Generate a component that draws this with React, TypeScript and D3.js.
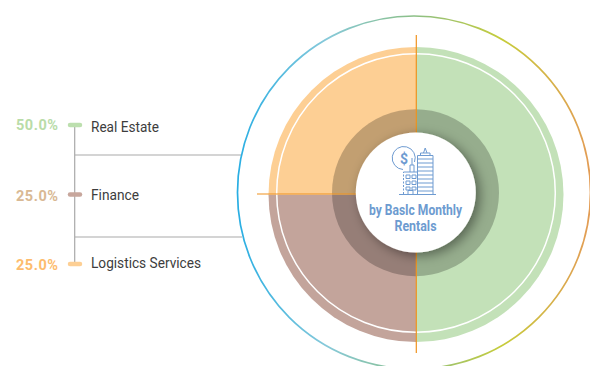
import { useMemo } from 'react'
import * as d3 from 'd3'

const categories = ['Real Estate', 'Finance', 'Logistics Services']
const shares = [50, 25, 25]
const shareLabels = ['50.0%', '25.0%', '25.0%']
const sliceColors = ['#c3e1b8', '#c3a49b', '#fdcf94']
const capColors = ['#bcdfae', '#c7a69c', '#fdcf94']
const labelColors = ['#b9dca8', '#d9b994', '#fdbc6e']
const centerLines = ['by BasIc Monthly', 'Rentals']

const W = 590
const H = 366

// fitted widths, the original font is narrower than anything installed
const nameWidths = [68, 48, 110]
const centerWidths = [93, 42]
const nameDy = [7, 5.5, 4]
const pctDy = [5, 6.5, 6]

export default function App() {
  const cx = 416
  const cy = 193.5

  const slices = useMemo(() => d3.pie<number>().sort(null)(shares), [])
  const arc = d3.arc<d3.PieArcDatum<number>>().innerRadius(0).outerRadius(147.5)

  const rowY = d3.scalePoint<string>().domain(categories).range([125, 264])
  const ringStops = ['#29aee3', '#86c9da', '#8bbf86', '#c6cc3a', '#e39c55']
  const ringOffset = d3.scaleLinear().domain([0, ringStops.length - 1]).range([0, 100])

  const iconColor = '#6e9bd1'

  return (
    <svg
      width={W}
      height={H}
      style={{ position: 'absolute', left: 0, top: 0, background: '#fff' }}
      fontFamily="Roboto, sans-serif"
    >
      <defs>
        <linearGradient id="ring" x1="0" y1="0" x2="1" y2="0">
          {ringStops.map((c, i) => (
            <stop key={c} offset={`${ringOffset(i)}%`} stopColor={c} />
          ))}
        </linearGradient>
        <filter id="hubShadow" x="-30%" y="-30%" width="170%" height="170%">
          <feDropShadow dx="4" dy="3" stdDeviation="6" floodColor="#000" floodOpacity="0.42" />
        </filter>
      </defs>

      {/* Connector lines behind the outer ring */}
      <g stroke="#a9a9a9" strokeWidth={1.2} fill="none">
        <line x1={74.7} x2={74.7} y1={rowY(categories[0])} y2={rowY(categories[2])} />
        <line x1={75} x2={241} y1={155} y2={155} />
        <line x1={75} x2={242} y1={237} y2={237} />
      </g>

      <circle cx={414} cy={192.5} r={176.5} fill="none" stroke="url(#ring)" strokeWidth={1.7} />

      <g transform={`translate(${cx},${cy + 1})`}>
        {slices.map((s, i) => (
          <path key={categories[i]} d={arc(s) ?? ''} fill={sliceColors[i]} />
        ))}
      </g>

      <circle cx={cx} cy={193} r={139.3} fill="none" stroke="#fff" strokeWidth={1.5} />

      <circle cx={cx - 0.5} cy={192.7} r={83.5} fill="#000" fillOpacity={0.23} />

      {/* Orange cross hairs */}
      <g stroke="#f0921e" strokeWidth={1.2}>
        <line x1={416.3} x2={416.3} y1={35} y2={353} />
        <line x1={257} x2={360} y1={194} y2={194} />
      </g>

      <circle cx={415.8} cy={192.5} r={60} fill="#fff" filter="url(#hubShadow)" />

      {/* Building icon */}
      <g transform="translate(392,146)" fill="none" stroke={iconColor} strokeWidth={1}>
        <path d="M22.5 16 A11.5 11.5 0 1 0 11 23.5" />
        <text x={12} y={17.5} fontSize={14} fontWeight={700} fill={iconColor} stroke="none" textAnchor="middle">$</text>
        <path d="M11.5 48 V26" strokeDasharray="2 1.5" />
        <path d="M11.5 26 H25" />
        <path d="M18 26 V19 H22 V26 M20 19 V12" />
        <path d="M14 29 h4 v3.5 h-4 z M20 29 h4 v3.5 h-4 z M14 35 h4 v3.5 h-4 z M20 35 h4 v3.5 h-4 z" />
        <path d="M14 41 h4 v3 h-4 z M20 41 h4 v3 h-4 z" />
        <path d="M16 48.5 v-4 h5 v4" />
        <path d="M25.5 48 V9.5 H41 V48" />
        <path
          d="M25.5 13 H41 M25.5 17 H41 M25.5 21 H41 M25.5 25 H41 M25.5 29 H41 M25.5 33 H41 M25.5 37 H41 M25.5 41 H41 M25.5 45 H41"
          strokeWidth={1.1}
        />
        <path d="M28.5 9.5 V7 H38 V9.5 M31.5 7 L33.2 2 L35 7" />
        <path d="M7 48.5 H44" strokeWidth={1.2} />
      </g>

      <g textAnchor="middle" fontWeight={700} fontSize={14.5} fill="#6d9bd0">
        {centerLines.map((t, i) => (
          <text key={t} x={415.5} y={215 + i * 16} textLength={centerWidths[i]} lengthAdjust="spacingAndGlyphs">
            {t}
          </text>
        ))}
      </g>

      {/* Legend rows */}
      {categories.map((c, i) => {
        const y = rowY(c) ?? 0
        return (
          <g key={c}>
            <line x1={70} x2={80} y1={y} y2={y} stroke={capColors[i]} strokeWidth={4.5} strokeLinecap="round" />
            <text
              x={16}
              y={y + pctDy[i]}
              fontSize={14.5}
              fontWeight={700}
              fill={labelColors[i]}
              textLength={42}
              lengthAdjust="spacing"
            >
              {shareLabels[i]}
            </text>
            <text
              x={91}
              y={y + nameDy[i]}
              fontSize={15}
              fill="#3d3d3d"
              textLength={nameWidths[i]}
              lengthAdjust="spacingAndGlyphs"
            >
              {c}
            </text>
          </g>
        )
      })}
    </svg>
  )
}
